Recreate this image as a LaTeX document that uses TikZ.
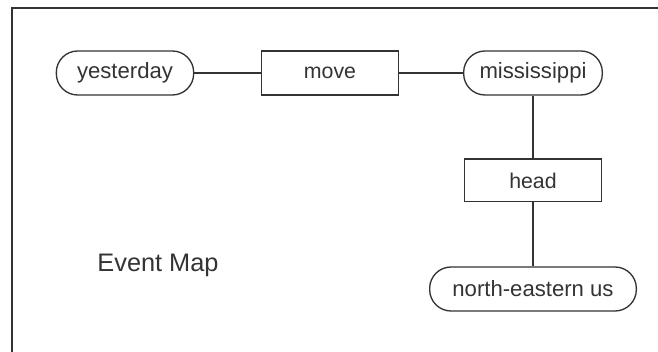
\documentclass[tikz,border=0pt]{standalone}
\usepackage{fontspec}
\setmainfont{Liberation Sans}
\definecolor{inkgray}{HTML}{333333}
\tikzset{
  event/.style={draw=inkgray, line width=1pt, rounded corners=16pt, inner sep=0pt,
    minimum width=103pt, minimum height=33pt, font=\fontsize{16.6}{19}\selectfont, text=inkgray},
  relation/.style={draw=inkgray, line width=1pt, inner sep=0pt,
    minimum width=103pt, minimum height=33pt, font=\fontsize{16}{19}\selectfont, text=inkgray},
  link/.style={draw=inkgray, line width=1pt}
}
\begin{document}
\begin{tikzpicture}[x=0.75pt, y=-0.75pt]

\useasboundingbox (0,0) rectangle (658,352);

% Marco
\draw[inkgray, line width=1.6pt] (12,352) -- (12,8) -- (658,8);

% Fila superior
\node[event] (yesterday) at (125,73) {yesterday};
\node[relation] (move) at (330,73) {move};
\node[event, minimum width=104pt] (mississippi) at (533,73) {mississippi};

% Columna derecha
\node[relation, minimum height=32pt] (head) at (533,180.5) {head};
\node[event, minimum width=155pt] (northeast) at (533,289) {north-eastern us};

% Titulo
\node[font=\fontsize{19}{22}\selectfont, text=inkgray] (title) at (158,265) {Event Map};

% Enlaces
\draw[link] (yesterday) -- (move);
\draw[link] (move) -- (mississippi);
\draw[link] (mississippi) -- (head);
\draw[link] (head) -- (northeast);

\end{tikzpicture}
\end{document}
